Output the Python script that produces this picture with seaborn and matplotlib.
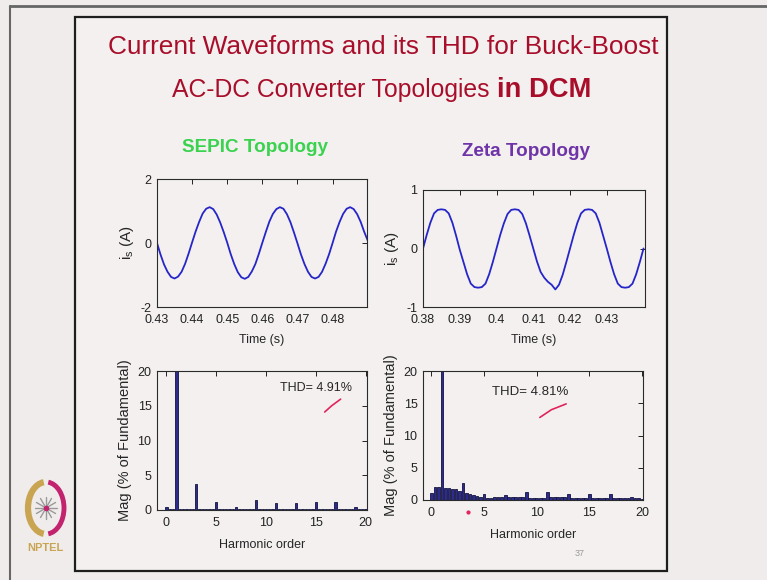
import numpy as np
import matplotlib
matplotlib.use("Agg")
import matplotlib.pyplot as plt
import seaborn as sns
from matplotlib import font_manager
from matplotlib.patches import Rectangle, Arc
from matplotlib.lines import Line2D

# ---- data ----
# source current, sampled every 1 ms
t_sepic = np.round(np.arange(0.430, 0.4905, 0.001), 3)
i_sepic = [0.00, -0.36, -0.67, -0.90, -1.06, -1.11, -1.05, -0.90, -0.65, -0.33,
           0.02, 0.36, 0.66, 0.92, 1.07, 1.12, 1.06, 0.89, 0.64, 0.34,
           0.01, -0.35, -0.66, -0.91, -1.07, -1.12, -1.06, -0.89, -0.66, -0.34,
           0.01, 0.35, 0.67, 0.91, 1.06, 1.12, 1.07, 0.90, 0.65, 0.33,
           -0.01, -0.36, -0.66, -0.90, -1.06, -1.11, -1.06, -0.90, -0.65, -0.35,
           0.00, 0.36, 0.66, 0.91, 1.07, 1.12, 1.06, 0.90, 0.66, 0.35,
           0.08]
t_zeta = np.round(np.arange(0.380, 0.4405, 0.001), 3)
i_zeta = [0.00, 0.23, 0.44, 0.60, 0.66, 0.67, 0.66, 0.60, 0.44, 0.22,
          -0.02, -0.23, -0.44, -0.60, -0.66, -0.67, -0.66, -0.60, -0.44, -0.23,
          0.00, 0.23, 0.43, 0.59, 0.66, 0.67, 0.66, 0.59, 0.43, 0.22,
          0.00, -0.22, -0.40, -0.50, -0.57, -0.62, -0.70, -0.62, -0.45, -0.23,
          0.00, 0.23, 0.44, 0.60, 0.66, 0.67, 0.66, 0.60, 0.44, 0.22,
          0.00, -0.23, -0.44, -0.60, -0.66, -0.67, -0.66, -0.60, -0.44, -0.23,
          0.00]

# FFT bins, a third of the fundamental apart (harmonic 0 .. 20)
harm = np.round(np.arange(61) / 3, 4)
mag_sepic = [0.38, 0.15, 0.15, 100, 0.15, 0.15, 0.20, 0.15, 0.15, 3.8,
             0.15, 0.15, 0.20, 0.15, 0.15, 1.2, 0.15, 0.15, 0.20, 0.15,
             0.15, 0.5, 0.15, 0.15, 0.20, 0.15, 0.15, 1.5, 0.15, 0.15,
             0.20, 0.15, 0.15, 1.05, 0.15, 0.15, 0.20, 0.15, 0.15, 0.95,
             0.15, 0.15, 0.20, 0.15, 0.15, 1.2, 0.15, 0.15, 0.20, 0.15,
             0.15, 1.2, 0.15, 0.15, 0.20, 0.15, 0.15, 0.5, 0.15, 0.15,
             0.15]
mag_zeta = [1.03, 2.07, 2.07, 100, 1.9, 1.8, 1.75, 1.65, 1.45, 2.6,
            1.05, 0.95, 0.8, 0.62, 0.45, 0.88, 0.35, 0.35, 0.4, 0.4,
            0.45, 0.7, 0.5, 0.45, 0.45, 0.4, 0.4, 1.2, 0.3, 0.3,
            0.35, 0.3, 0.3, 1.2, 0.4, 0.4, 0.45, 0.4, 0.4, 0.9,
            0.3, 0.3, 0.3, 0.25, 0.25, 0.9, 0.25, 0.25, 0.3, 0.25,
            0.25, 0.9, 0.25, 0.25, 0.25, 0.3, 0.3, 0.5, 0.3, 0.25,
            0.2]

sepic_xticks = [0.43, 0.44, 0.45, 0.46, 0.47, 0.48]
sepic_xlabels = ["0.43", "0.44", "0.45", "0.46", "0.47", "0.48"]
zeta_xticks = [0.38, 0.39, 0.40, 0.41, 0.42, 0.43]
zeta_xlabels = ["0.38", "0.39", "0.4", "0.41", "0.42", "0.43"]
harm_ticks = [0, 5, 10, 15, 20]
thd_sepic = "THD= 4.91%"
thd_zeta = "THD= 4.81%"

# red pen strokes drawn on the slide
pen_sepic_x = [15.9, 16.6, 17.5]
pen_sepic_y = [14.1, 15.0, 15.95]
pen_zeta_x = [10.3, 11.4, 12.8]
pen_zeta_y = [12.8, 14.0, 14.9]

# ---- style ----
sns.set_style("white")
names = {f.name for f in font_manager.fontManager.ttflist}
NARROW = "Liberation Sans Narrow" in names
FN = ["Liberation Sans Narrow", "Liberation Sans"] if NARROW else ["Liberation Sans"]
k = 1.0 if NARROW else 0.82
plt.rcParams["font.family"] = ["Liberation Sans", "DejaVu Sans"]
plt.rcParams["mathtext.fontset"] = "custom"
plt.rcParams["mathtext.rm"] = "Liberation Sans"
plt.rcParams["mathtext.it"] = "Liberation Sans:italic"

BG = "#f0ecec"
PANEL = "#f4f0f0"
LINE = "#2626c8"
TICK = 9

fig = plt.figure(figsize=(7.67, 5.8), dpi=100, facecolor=BG)

# background layer in pixel coordinates
bg = fig.add_axes([0, 0, 1, 1], zorder=0)
bg.set_xlim(0, 767)
bg.set_ylim(580, 0)
bg.axis("off")
bg.add_patch(Rectangle((75, 17), 592, 554, facecolor=PANEL, edgecolor="#1e1e1e", lw=1.6))
bg.add_line(Line2D([10, 767], [6, 6], color="#666", lw=2))
bg.add_line(Line2D([10, 10], [6, 580], color="#666", lw=1.5))

bg.text(383, 47, "Current Waveforms and its THD for Buck-Boost", ha="center", va="center",
        color="#a80e2a", fontsize=23 * k, family=FN)
bg.text(490, 90, "AC-DC Converter Topologies", ha="right", va="center",
        color="#a80e2a", fontsize=21.7 * k, family=FN)
bg.text(497, 90, "in DCM", ha="left", va="center",
        color="#a80e2a", fontsize=24 * k, family=FN, fontweight="bold")
bg.text(255, 147, "SEPIC Topology", ha="center", va="center",
        color="#3ad24e", fontsize=16.6 * k, family=FN, fontweight="bold")
bg.text(526, 152, "Zeta Topology", ha="center", va="center",
        color="#6e34a8", fontsize=16.6 * k, family=FN, fontweight="bold")
bg.text(580, 553, "37", ha="center", va="center", color="#9a9a9a", fontsize=6.5)

# NPTEL logo
bg.add_patch(Arc((46, 508), 36, 52, theta1=95, theta2=265, color="#c9a552", lw=4.5))
bg.add_patch(Arc((46, 508), 36, 52, theta1=-85, theta2=85, color="#c2226e", lw=3.5))
for a in np.deg2rad([0, 30, 60, 90, 120, 150]):
    bg.add_line(Line2D([46 - 11 * np.cos(a), 46 + 11 * np.cos(a)],
                       [508 - 11 * np.sin(a), 508 + 11 * np.sin(a)], color="#9a9a9a", lw=1))
bg.plot([46], [508], "o", color="#c2226e", ms=3)
bg.text(45, 548, "NPTEL", ha="center", va="center", color="#c9a552",
        fontsize=8, fontweight="bold")


def px_axes(l, r, t, b):
    return fig.add_axes([l / 767, 1 - b / 580, (r - l) / 767, (b - t) / 580], zorder=2)


def style(ax):
    ax.set_facecolor(PANEL)
    for s in ax.spines.values():
        s.set_color("#2a2a2a")
        s.set_linewidth(0.8)
    ax.tick_params(direction="in", top=True, right=True, length=3.5, width=0.7,
                   labelsize=TICK, colors="#222")
    ax.tick_params(axis="x", pad=5)
    ax.tick_params(axis="y", pad=4)
    for lab in ax.get_xticklabels() + ax.get_yticklabels():
        lab.set_family(FN)


# SEPIC current
ax1 = px_axes(157, 367, 179, 307)
sns.lineplot(x=t_sepic, y=i_sepic, ax=ax1, color=LINE, lw=1.3)
ax1.set_xlim(0.43, 0.4898)
ax1.set_ylim(-2, 2)
ax1.set_xticks(sepic_xticks, sepic_xlabels)
ax1.set_yticks([-2, 0, 2], ["-2", "0", "2"])
ax1.set_xlabel("Time (s)", fontsize=9, family=FN, labelpad=6)
ax1.set_ylabel(r"i$_\mathrm{s}$ (A)", fontsize=11, labelpad=3)
style(ax1)

# Zeta current
ax2 = px_axes(423, 645, 190, 307)
sns.lineplot(x=t_zeta, y=i_zeta, ax=ax2, color=LINE, lw=1.3)
ax2.set_xlim(0.38, 0.4404)
ax2.set_ylim(-1, 1)
ax2.set_xticks(zeta_xticks, zeta_xlabels)
ax2.set_yticks([-1, 0, 1], ["-1", "0", "1"])
ax2.set_xlabel("Time (s)", fontsize=9, family=FN, labelpad=6)
ax2.set_ylabel(r"i$_\mathrm{s}$ (A)", fontsize=11, labelpad=4)
style(ax2)

# SEPIC spectrum
ax3 = px_axes(157, 367, 371, 510)
sns.barplot(x=harm, y=mag_sepic, ax=ax3, native_scale=True, orient="x", width=0.7,
            color="#2c2c90", edgecolor="#12123c", linewidth=0.6, saturation=1, errorbar=None)
ax3.set_xlim(-0.95, 20.15)
ax3.set_ylim(0, 20)
ax3.set_xticks(harm_ticks, [str(v) for v in harm_ticks])
ax3.set_yticks([0, 5, 10, 15, 20], ["0", "5", "10", "15", "20"])
ax3.set_xlabel("Harmonic order", fontsize=9, family=FN, labelpad=7)
ax3.set_ylabel("Mag (% of Fundamental)", fontsize=10.5, labelpad=4)
ax3.text(15.0, 17.6, thd_sepic, ha="center", va="center", fontsize=9, family=FN)
sns.lineplot(x=pen_sepic_x, y=pen_sepic_y, ax=ax3, color="#e0245c", lw=1.2)
style(ax3)

# Zeta spectrum
ax4 = px_axes(423, 643, 371, 500)
sns.barplot(x=harm, y=mag_zeta, ax=ax4, native_scale=True, orient="x", width=0.8,
            color="#2c2c90", edgecolor="#12123c", linewidth=0.6, saturation=1, errorbar=None)
ax4.set_xlim(-0.8, 20.1)
ax4.set_ylim(0, 20)
ax4.set_xticks(harm_ticks, [str(v) for v in harm_ticks])
ax4.set_yticks([0, 5, 10, 15, 20], ["0", "5", "10", "15", "20"])
ax4.set_xlabel("Harmonic order", fontsize=9, family=FN, labelpad=7)
ax4.set_ylabel("Mag (% of Fundamental)", fontsize=10.5, labelpad=4)
ax4.text(9.4, 16.8, thd_zeta, ha="center", va="center", fontsize=9.5, family=FN)
sns.lineplot(x=pen_zeta_x, y=pen_zeta_y, ax=ax4, color="#e0245c", lw=1.2)
ax4.plot([3.5], [-1.8], "o", color="#e0245c", ms=2, clip_on=False)
style(ax4)

fig.savefig("out.png", dpi=100, facecolor=BG)
